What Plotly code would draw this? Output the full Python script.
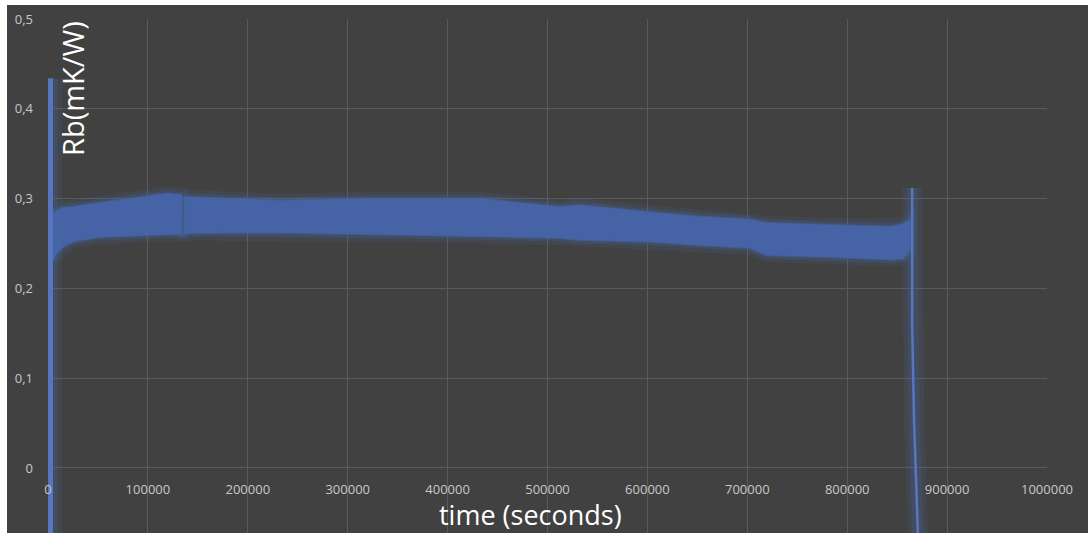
import plotly.graph_objects as go

# ---- data ----
band_t = [5000, 8000, 15000, 25000, 50000, 95000, 120000, 134000, None,
          136500, 180000, 232000, 332000, 432000, 512000, 532000, 602000,
          652000, 702000, 719000, 802000, 845000, 856000, 863000]
band_low = [0.232, 0.238, 0.246, 0.252, 0.257, 0.259, 0.260, 0.260, None,
            0.261, 0.262, 0.262, 0.260, 0.258, 0.256, 0.254, 0.252,
            0.248, 0.245, 0.237, 0.234, 0.232, 0.233, 0.243]
band_high = [0.283, 0.286, 0.290, 0.291, 0.295, 0.302, 0.306, 0.304, None,
             0.302, 0.300, 0.298, 0.300, 0.300, 0.291, 0.293, 0.285,
             0.280, 0.277, 0.273, 0.270, 0.269, 0.272, 0.276]

start_t = [2000, 2000]
start_rb = [0.434, -0.08]

end_t = [865000, 865000, 867000, 871000]
end_rb = [0.312, 0.16, 0.05, -0.08]

x_ticks = [0, 100000, 200000, 300000, 400000, 500000, 600000, 700000, 800000, 900000, 1000000]
x_tick_labels = ["0", "100000", "200000", "300000", "400000", "500000", "600000",
                 "700000", "800000", "900000", "1000000"]
y_ticks = [0, 0.1, 0.2, 0.3, 0.4, 0.5]
y_tick_labels = ["0", "0,1", "0,2", "0,3", "0,4", "0,5"]

x_title = "time (seconds)"
y_title = "Rb(mK/W)"

# ---- build closed band polygons (one per segment) ----
def band_polygon(ts, lo, hi):
    xs, ys = [], []
    seg_t, seg_lo, seg_hi = [], [], []
    segs = []
    for t, l, h in zip(ts, lo, hi):
        if t is None:
            segs.append((seg_t, seg_lo, seg_hi))
            seg_t, seg_lo, seg_hi = [], [], []
        else:
            seg_t.append(t); seg_lo.append(l); seg_hi.append(h)
    segs.append((seg_t, seg_lo, seg_hi))
    for st, sl, sh in segs:
        if xs:
            xs.append(None); ys.append(None)
        xs += st + st[::-1] + [st[0]]
        ys += sh + sl[::-1] + [sh[0]]
    return xs, ys

px, py = band_polygon(band_t, band_low, band_high)

BG = "#414141"
GRID = "#5a5a5a"
BLUE = "rgb(70,100,165)"
BRIGHT = "rgb(88,118,190)"

fig = go.Figure()

# soft glow of the band (two layers)
for w, a in [(14, 0.12), (7, 0.22)]:
    fig.add_trace(go.Scatter(x=px, y=py, mode="lines",
                             line=dict(color=f"rgba(72,104,175,{a})", width=w),
                             hoverinfo="skip", showlegend=False))
fig.add_trace(go.Scatter(x=px, y=py, mode="lines", fill="toself", fillcolor=BLUE,
                         line=dict(color="rgba(70,100,165,0.55)", width=2),
                         hoverinfo="skip", showlegend=False))
# spikes with glow
for tt, rr, w in [(start_t, start_rb, 6), (end_t, end_rb, 2.5)]:
    for gw, a in [(w + 18, 0.12), (w + 9, 0.2)]:
        fig.add_trace(go.Scatter(x=tt, y=rr, mode="lines",
                                 line=dict(color=f"rgba(72,104,175,{a})", width=gw),
                                 hoverinfo="skip", showlegend=False))
    fig.add_trace(go.Scatter(x=tt, y=rr, mode="lines", line=dict(color=BRIGHT, width=w),
                             hoverinfo="skip", showlegend=False))

W, H = 1088, 533
ml, mr, mt, mb = 48, 41, 19, 0
pw, ph = W - ml - mr, H - mt - mb
ymin, ymax = -0.0724, 0.5
y0_frac = (0 - ymin) / (ymax - ymin)

def fx(pix):
    return (pix - ml) / pw

def fy(pix):
    return (H - mb - pix) / ph

fig.update_layout(
    width=W, height=H,
    margin=dict(l=ml, r=mr, t=mt, b=mb),
    paper_bgcolor="white",
    plot_bgcolor=BG,
    separators=", ",
    font=dict(family="Open Sans, Noto Sans, sans-serif", color="#c8c8c8", size=13),
    xaxis=dict(range=[0, 1000000], tickvals=x_ticks, ticktext=x_tick_labels,
               showgrid=True, gridcolor=GRID, gridwidth=1, zeroline=False,
               showline=False, ticks="", anchor="free", position=y0_frac,
               ticklabelstandoff=12, tickfont=dict(size=13, color="#c8c8c8")),
    yaxis=dict(range=[ymin, ymax], tickvals=y_ticks, ticktext=y_tick_labels,
               showgrid=True, gridcolor=GRID, gridwidth=1, zeroline=False,
               showline=False, ticks="", ticklabelstandoff=14,
               tickfont=dict(size=13, color="#c8c8c8")),
    shapes=[dict(type="rect", xref="paper", yref="paper", layer="below",
                 x0=fx(7), x1=fx(W + 2), y0=fy(H + 2), y1=fy(5),
                 fillcolor=BG, line=dict(width=0))],
    annotations=[
        dict(text=x_title, xref="paper", yref="paper", x=fx(530), y=fy(514),
             showarrow=False, font=dict(size=27, color="white"),
             xanchor="center", yanchor="middle"),
        dict(text=y_title, xref="paper", yref="paper", x=fx(73), y=fy(89),
             showarrow=False, textangle=-90, font=dict(size=29, color="white"),
             xanchor="center", yanchor="middle"),
    ],
)

fig.write_html("out.html")
